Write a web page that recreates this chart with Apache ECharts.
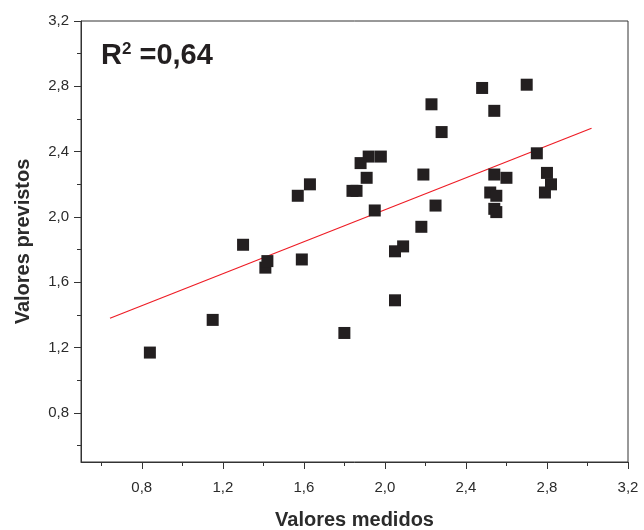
<!DOCTYPE html>
<html>
<head>
<meta charset="utf-8">
<script src="https://cdn.jsdelivr.net/npm/echarts@6/dist/echarts.min.js"></script>
<style>
  html, body { margin: 0; padding: 0; background: #fff; }
  #chart { width: 644px; height: 530px; }
</style>
</head>
<body>
<div id="chart"></div>
<script>
// medidos (x) vs previstos (y)
const medidos = [0.84, 1.15, 1.30, 1.41, 1.42, 1.59, 1.57, 1.63, 1.80,
  2.48, 2.70, 2.23, 2.54, 2.28, 2.75, 1.92, 1.98, 1.88, 1.91, 2.19, 2.54, 2.60, 2.80,
  2.82, 2.79, 1.84, 1.86, 2.52, 2.55, 2.25, 1.95, 2.54, 2.55, 2.18, 2.09, 2.05, 2.05];
const previstos = [1.17, 1.37, 1.83, 1.69, 1.73, 1.74, 2.13, 2.20, 1.29,
  2.79, 2.81, 2.69, 2.65, 2.52, 2.39, 2.37, 2.37, 2.33, 2.24, 2.26, 2.26, 2.24, 2.27,
  2.20, 2.15, 2.16, 2.16, 2.15, 2.13, 2.07, 2.04, 2.05, 2.03, 1.94, 1.82, 1.79, 1.49];

// linha de ajuste
const ajusteX = [0.643, 3.02];
const ajusteY = [1.38, 2.543];

const majorTicks = [0.8, 1.2, 1.6, 2.0, 2.4, 2.8, 3.2];
const minorTicks = [0.6, 1.0, 1.4, 1.8, 2.2, 2.6, 3.0];

const pontos = medidos.map((v, i) => [v, previstos[i]]);
const linha = ajusteX.map((v, i) => [v, ajusteY[i]]);

const fmt = (v) => Number(v).toFixed(1).replace('.', ',');
const txt = '#2b2b2b';
const eixo = '#333';

function mainAxis(name, gap, isY) {
  return {
    type: 'value', min: 0.5, max: 3.2,
    position: isY ? 'left' : 'bottom',
    name: name, nameLocation: 'middle', nameGap: gap,
    nameTextStyle: { fontFamily: 'Liberation Sans', fontWeight: 'bold', fontSize: 20, color: txt },
    axisLine: { show: true, lineStyle: { color: eixo, width: 1 } },
    axisTick: { show: true, inside: false, length: 7, customValues: majorTicks, lineStyle: { color: eixo } },
    axisLabel: { customValues: majorTicks, formatter: fmt, fontFamily: 'Liberation Sans', fontSize: 15,
      color: txt, margin: isY ? 12 : 18 },
    splitLine: { show: false }
  };
}
function minorAxis(isY) {
  return {
    type: 'value', min: 0.5, max: 3.2,
    position: isY ? 'left' : 'bottom',
    axisLine: { show: false },
    axisTick: { show: true, inside: false, length: 4, customValues: minorTicks, lineStyle: { color: eixo } },
    axisLabel: { show: false },
    splitLine: { show: false }
  };
}

const chart = echarts.init(document.getElementById('chart'));
chart.setOption({
  backgroundColor: '#fff',
  animation: false,
  grid: { left: 81, right: 16, top: 21, bottom: 68, outerBoundsMode: 'none', containLabel: false,
    show: true, borderColor: eixo, borderWidth: 1 },
  title: {
    text: 'R{sup|2} =0,64',
    left: 96, top: 36,
    textStyle: {
      fontFamily: 'Liberation Sans', fontWeight: 'bold', fontSize: 29, color: '#231f20',
      rich: { sup: { fontFamily: 'Liberation Sans', fontWeight: 'bold', fontSize: 17, color: '#231f20',
        verticalAlign: 'top', padding: [0, 0, 12, 0] } }
    }
  },
  xAxis: [mainAxis('Valores medidos', 48, false), minorAxis(false)],
  yAxis: [mainAxis('Valores previstos', 48, true), minorAxis(true)],
  series: [
    {
      type: 'scatter', data: pontos, symbol: 'rect', symbolSize: 12,
      itemStyle: { color: '#231f20', opacity: 1 }, z: 3
    },
    {
      type: 'line', data: linha, showSymbol: false, symbol: 'none',
      lineStyle: { color: '#ee1c25', width: 1.2 }, z: 2
    }
  ]
});
</script>
</body>
</html>
